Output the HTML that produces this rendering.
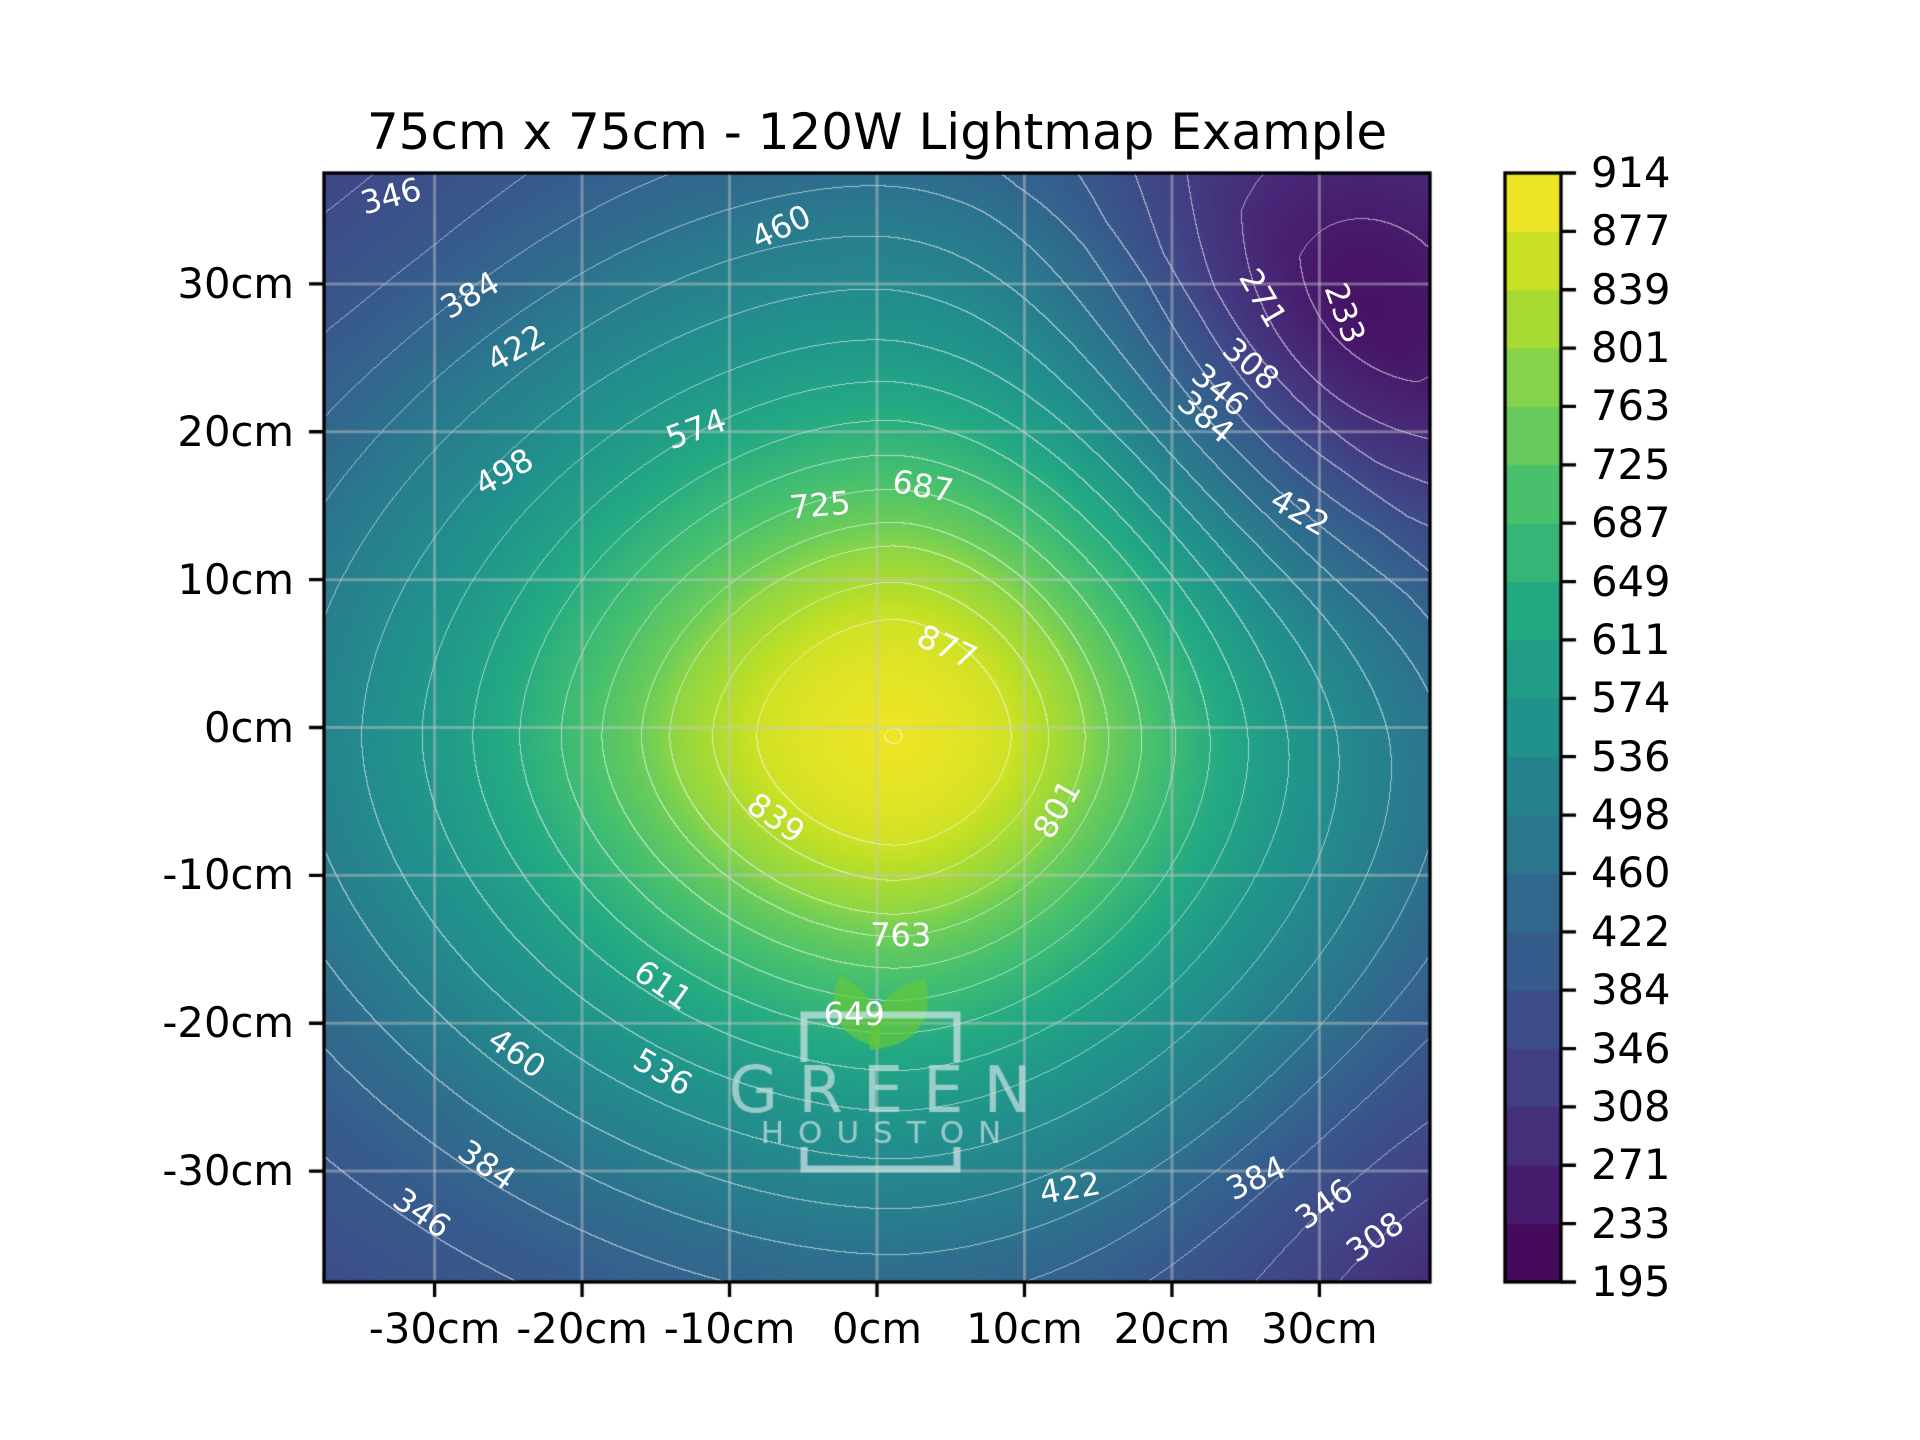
<!DOCTYPE html>
<html><head><meta charset="utf-8">
<style>
html,body{margin:0;padding:0;background:#fff;}
#wrap{position:relative;width:1920px;height:1440px;overflow:hidden;font-family:"DejaVu Sans","Liberation Sans",sans-serif;}
canvas{position:absolute;}
.t{position:absolute;color:#000;font-size:41.7px;white-space:nowrap;line-height:1;}
.cl{position:absolute;color:#fff;font-size:32px;white-space:nowrap;line-height:1;transform-origin:center center;}
</style></head>
<body><div id="wrap">
<canvas id="c" width="1920" height="1440" style="left:0;top:0"></canvas>
<div class="t" style="left:0;width:1754px;text-align:center;top:107px;font-size:50px;">75cm x 75cm - 120W Lightmap Example</div>
<div id="labels"></div>
</div>
<script>
const cv=document.getElementById('c'),ctx=cv.getContext('2d');
const PX0=324,PX1=1430,PY0=173,PY1=1282;
const CXc=(PX0+PX1)/2,CYc=(PY0+PY1)/2,SX=(PX1-PX0)/75,SY=(PY1-PY0)/75;
const anchors=[[0,0x44,0x01,0x54],[0.1,0x48,0x24,0x75],[0.2,0x41,0x44,0x87],[0.3,0x35,0x5f,0x8d],[0.4,0x2a,0x78,0x8e],[0.5,0x21,0x91,0x8c],[0.6,0x22,0xa8,0x84],[0.7,0x44,0xbf,0x70],[0.8,0x7a,0xd1,0x51],[0.9,0xbd,0xdf,0x26],[1,0xfd,0xe7,0x25]];
function vir(t){t=Math.max(0,Math.min(1,t));for(let i=0;i<anchors.length-1;i++){const a=anchors[i],b=anchors[i+1];if(t<=b[0]){const f=(t-a[0])/(b[0]-a[0]);return [a[1]+(b[1]-a[1])*f,a[2]+(b[2]-a[2])*f,a[3]+(b[3]-a[3])*f];}}return [0xfd,0xe7,0x25];}
const H=[[0,0],[5,20],[7,37],[9,70],[11.5,110],[13,150],[16,205],[20,275],[24,335],[29,395],[33,440],[35,470],[40,520],[51,580],[60,640]];
function hf(d){for(let i=0;i<H.length-1;i++){if(d<=H[i+1][0]){const f=(d-H[i][0])/(H[i+1][0]-H[i][0]);return H[i][1]+(H[i+1][1]-H[i][1])*f;}}return 640;}
function field(x,y){
 const cx=1.2,cy=-0.6;
 let dx=x-cx,dy=y-cy;
 dx=Math.abs(dx/(dx<0?1.3:1.11));dy=Math.abs(dy/(dy>0?1.1:1.03));
 const p=1.8;
 const d=Math.pow(Math.pow(dx,p)+Math.pow(dy,p),1/p);
 let v=916-hf(d);
 const u=(x+y)/1.41421,w=(x-y)/1.41421;
 const du=u-41.0,dw=w-3.5;
 v-=185*Math.exp(-du*du/200)*Math.exp(-dw*dw/300);
 const bx=x-42,by=y+42;
 v-=80*Math.exp(-(bx*bx+by*by)/(2*150));
 const tx=x+42,ty=y-42;
 v-=25*Math.exp(-(tx*tx+ty*ty)/(2*150));
 return Math.max(v,200);
}
const W=PX1-PX0,Hh=PY1-PY0;
const img=ctx.createImageData(W,Hh);
const vals=new Float32Array(W*Hh),idx=new Int16Array(W*Hh);
for(let j=0;j<Hh;j++)for(let i=0;i<W;i++){
 const x=(PX0+i+0.5-CXc)/SX,y=(CYc-(PY0+j+0.5))/SY;
 const v=field(x,y);vals[j*W+i]=v;idx[j*W+i]=Math.floor((v-195)/((914-195)/19));
}
for(let j=0;j<Hh;j++)for(let i=0;i<W;i++){
 const k=j*W+i,v=vals[k];
 let c=vir((v-195)/(914-195)*0.95+0.025);
 let edge=false;
 if(i<W-1&&idx[k+1]!==idx[k])edge=true;
 if(j<Hh-1&&idx[k+W]!==idx[k])edge=true;
 if(edge){c=[c[0]*0.45+255*0.55,c[1]*0.45+255*0.55,c[2]*0.45+255*0.55];}
 img.data[k*4]=c[0];img.data[k*4+1]=c[1];img.data[k*4+2]=c[2];img.data[k*4+3]=255;
}
ctx.putImageData(img,PX0,PY0);
const tx=[],ty=[];
for(let k=-3;k<=3;k++){tx.push(CXc+k*10*SX);ty.push(CYc-k*10*SY);}
ctx.strokeStyle='rgba(200,200,200,0.45)';ctx.lineWidth=3;
tx.forEach(x=>{ctx.beginPath();ctx.moveTo(x,PY0);ctx.lineTo(x,PY1);ctx.stroke();});
ty.forEach(y=>{ctx.beginPath();ctx.moveTo(PX0,y);ctx.lineTo(PX1,y);ctx.stroke();});
ctx.fillStyle='rgba(100,200,60,0.72)';
function leaf(x0,y0,x1,y1,b){ctx.beginPath();ctx.moveTo(x0,y0);ctx.quadraticCurveTo(x0+b[0],y0+b[1],x1,y1);ctx.quadraticCurveTo(x1+b[2],y1+b[3],x0,y0);ctx.fill();}
leaf(840,975,880,1048,[-25,55,5,-50]);
leaf(925,978,870,1050,[15,65,-5,-55]);
ctx.strokeStyle='rgba(200,225,225,0.75)';ctx.lineWidth=7;
ctx.beginPath();ctx.moveTo(804,1062);ctx.lineTo(804,1015);ctx.lineTo(957,1015);ctx.lineTo(957,1062);ctx.stroke();
ctx.beginPath();ctx.moveTo(804,1147);ctx.lineTo(804,1169);ctx.lineTo(957,1169);ctx.lineTo(957,1147);ctx.stroke();
ctx.fillStyle='rgba(200,225,225,0.72)';ctx.textAlign='center';ctx.textBaseline='alphabetic';
ctx.font='64px "DejaVu Sans"';
if(ctx.letterSpacing!==undefined)ctx.letterSpacing='20px';
ctx.fillText('GREEN',890,1112);
ctx.font='31px "DejaVu Sans"';
if(ctx.letterSpacing!==undefined)ctx.letterSpacing='14px';
ctx.fillText('HOUSTON',888,1143);
if(ctx.letterSpacing!==undefined)ctx.letterSpacing='0px';
ctx.strokeStyle='#000';ctx.lineWidth=3.3;
ctx.strokeRect(PX0,PY0,W,Hh);
ctx.beginPath();
tx.forEach(x=>{ctx.moveTo(x,PY1);ctx.lineTo(x,PY1+15);});
ty.forEach(y=>{ctx.moveTo(PX0,y);ctx.lineTo(PX0-15,y);});
ctx.stroke();
const CX0=1505,CX1=1561,CY0=173,CY1=1282,bh=(CY1-CY0)/19;
for(let i=0;i<19;i++){const c=vir((i+0.5)/19);ctx.fillStyle=`rgb(${c[0]|0},${c[1]|0},${c[2]|0})`;ctx.fillRect(CX0,CY1-(i+1)*bh-0.5,CX1-CX0,bh+1);}
ctx.strokeRect(CX0,CY0,CX1-CX0,CY1-CY0);
ctx.beginPath();for(let i=0;i<=19;i++){const y=CY1-i*bh;ctx.moveTo(CX1,y);ctx.lineTo(CX1+15,y);}ctx.stroke();
const L=document.getElementById('labels');let h='';
const xl=['-30cm','-20cm','-10cm','0cm','10cm','20cm','30cm'];
tx.forEach((x,i)=>{h+=`<div class="t" style="left:${x-150}px;width:300px;text-align:center;top:1308px">${xl[i]}</div>`;});
const yl=['-30cm','-20cm','-10cm','0cm','10cm','20cm','30cm'];
ty.forEach((y,i)=>{h+=`<div class="t" style="right:${1920-294}px;top:${y-21}px">${yl[i]}</div>`;});
const cb=[195,233,271,308,346,384,422,460,498,536,574,611,649,687,725,763,801,839,877,914];
cb.forEach((v,i)=>{h+=`<div class="t" style="left:1591px;top:${CY1-i*bh-21}px">${v}</div>`;});
const cl=[[346,318,160,-15],[384,382,241,-30],[422,420,284,-30],[460,636,185,-25],[498,410,385,-30],[574,567,350,-20],[725,668,412,-5],[687,752,397,10],[877,772,528,25],[839,632,668,35],[801,862,660,-60],[763,734,763,0],[611,540,804,35],[649,696,828,0],[460,421,860,35],[536,540,875,30],[384,396,951,35],[346,343,990,35],[422,872,970,-10],[384,1024,962,-25],[346,1080,983,-35],[308,1121,1010,-35],[271,1030,243,60],[233,1097,255,70],[308,1020,297,40],[346,995,318,40],[384,983,340,40],[422,1060,418,30]];
const s2=1.2245;
cl.forEach(a=>{const x=324+(a[1]-263)*s2,y=173+(a[2]-141)*s2;h+=`<div class="cl" style="left:${x-40}px;width:80px;text-align:center;top:${y-16}px;transform:rotate(${a[3]}deg)">${a[0]}</div>`;});
L.innerHTML=h;
</script>
</body></html>
